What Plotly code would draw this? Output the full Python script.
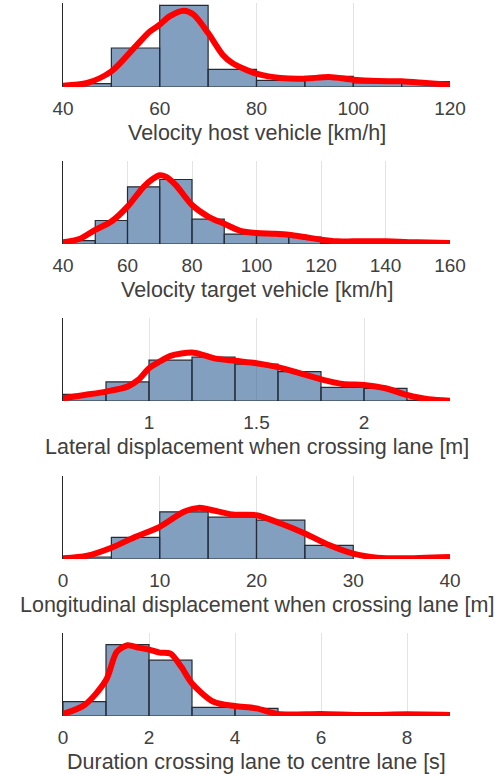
import plotly.graph_objects as go

# ---- histogram bins (left edges, bin width) and bar heights ----
host_edges = [40, 50, 60, 70, 80, 90, 100, 110]
host_counts = [10, 117, 245, 53, 20, 32, 12, 16]
host_kde_x = [40, 45, 50, 55, 58, 60, 62, 65, 67, 70, 73, 75, 80, 85, 90, 95, 100, 105, 110, 115, 120]
host_kde_y = [4, 12, 47, 122, 167, 187, 212, 229, 217, 162, 97, 72, 40, 27, 25, 30, 22, 18, 17, 12, 7]

target_edges = [40, 50, 60, 70, 80, 90, 100, 110, 120, 130, 140, 150]
target_counts = [10, 71, 173, 195, 75, 30, 28, 21, 3, 2, 2, 1]
target_kde_x = [40, 45, 50, 55, 60, 65, 68, 70, 72, 75, 80, 85, 90, 95, 100, 105, 110, 115, 120, 125, 130, 140, 150, 160]
target_kde_y = [5, 15, 43, 68, 113, 173, 198, 208, 203, 178, 118, 83, 61, 40, 33, 31, 28, 21, 13, 8, 8, 8, 5, 3]

lat_edges = [0.6, 0.8, 1.0, 1.2, 1.4, 1.6, 1.8, 2.0, 2.2]
lat_counts = [20, 57, 122, 131, 110, 88, 41, 38, 3]
lat_kde_x = [0.6, 0.7, 0.8, 0.9, 0.95, 1.0, 1.05, 1.1, 1.2, 1.25, 1.3, 1.4, 1.5, 1.6, 1.7, 1.8, 1.9, 2.0, 2.1, 2.2, 2.3, 2.4]
lat_kde_y = [8, 18, 28, 43, 63, 98, 118, 135, 145, 138, 128, 120, 113, 101, 83, 65, 51, 48, 38, 18, 5, 1]

lon_edges = [0, 5, 10, 15, 20, 25]
lon_counts = [6, 65, 142, 126, 117, 41]
lon_kde_x = [0, 2.5, 5, 7.5, 10, 12.5, 14, 15, 17.5, 20, 22.5, 25, 27.5, 30, 32.5, 35, 40]
lon_kde_y = [2, 10, 34, 67, 97, 142, 154, 150, 134, 132, 107, 77, 42, 16, 4, 2, 6]

dur_edges = [0, 1, 2, 3, 4, 5, 6, 7, 8]
dur_counts = [43, 215, 168, 26, 23, 1, 1, 1, 2]
dur_kde_x = [0, 0.5, 1, 1.25, 1.5, 1.75, 2, 2.25, 2.5, 2.75, 3, 3.5, 4, 4.5, 5, 6, 7, 8, 9]
dur_kde_y = [6, 33, 108, 193, 213, 206, 200, 191, 188, 148, 98, 43, 30, 23, 6, 6, 3, 5, 3]

panels = [
    dict(edges=host_edges, width=10, counts=host_counts, kx=host_kde_x, ky=host_kde_y,
         xr=[40, 120], ticks=[40, 60, 80, 100, 120], ymax=252,
         title="Velocity host vehicle [km/h]"),
    dict(edges=target_edges, width=10, counts=target_counts, kx=target_kde_x, ky=target_kde_y,
         xr=[40, 160], ticks=[40, 60, 80, 100, 120, 140, 160], ymax=251,
         title="Velocity target vehicle [km/h]"),
    dict(edges=lat_edges, width=0.2, counts=lat_counts, kx=lat_kde_x, ky=lat_kde_y,
         xr=[0.6, 2.4], ticks=[1, 1.5, 2], ymax=248,
         title="Lateral displacement when crossing lane [m]"),
    dict(edges=lon_edges, width=5, counts=lon_counts, kx=lon_kde_x, ky=lon_kde_y,
         xr=[0, 40], ticks=[0, 10, 20, 30, 40], ymax=250,
         title="Longitudinal displacement when crossing lane [m]"),
    dict(edges=dur_edges, width=1, counts=dur_counts, kx=dur_kde_x, ky=dur_kde_y,
         xr=[0, 9], ticks=[0, 2, 4, 6, 8], ymax=250,
         title="Duration crossing lane to centre lane [s]"),
]

W, H = 495, 774
# pixel extents of each plotting area (top, bottom)
rows_px = [(3, 87), (161, 244), (318, 401), (476, 559), (633, 716)]
x_px = (63, 450)

FONT = "Liberation Sans, Arial, sans-serif"
TEXT_COLOR = "#404040"
BAR_FILL = "rgba(48,95,148,0.6)"
BAR_EDGE = "#262b33"

fig = go.Figure()
layout = dict(
    width=W, height=H,
    margin=dict(l=0, r=0, t=0, b=0, autoexpand=False),
    paper_bgcolor="white", plot_bgcolor="white",
    showlegend=False,
    font=dict(family=FONT, color=TEXT_COLOR),
    annotations=[],
)

for i, p in enumerate(panels):
    n = i + 1
    xa = "x" if n == 1 else f"x{n}"
    ya = "y" if n == 1 else f"y{n}"
    centers = [e + p["width"] / 2 for e in p["edges"]]
    fig.add_trace(go.Bar(
        x=centers, y=p["counts"], width=p["width"],
        marker=dict(color=BAR_FILL, line=dict(color=BAR_EDGE, width=1.2)),
        xaxis=xa, yaxis=ya, hoverinfo="skip",
    ))
    fig.add_trace(go.Scatter(
        x=p["kx"], y=p["ky"], mode="lines",
        line=dict(color="#ff0000", width=6, shape="spline", smoothing=0.8),
        xaxis=xa, yaxis=ya, hoverinfo="skip",
    ))
    top, bot = rows_px[i]
    ydom = [1 - bot / H, 1 - top / H]
    layout[f"xaxis{'' if n == 1 else n}"] = dict(
        domain=[x_px[0] / W, x_px[1] / W], range=p["xr"], anchor=ya,
        tickvals=p["ticks"], showgrid=True, gridcolor="#e3e3e3", gridwidth=1,
        zeroline=False, showline=False, ticks="", automargin=False,
        ticklabelstandoff=8,
        tickfont=dict(size=19, color=TEXT_COLOR, family=FONT),
        fixedrange=True,
    )
    layout[f"yaxis{'' if n == 1 else n}"] = dict(
        domain=ydom, range=[0, p["ymax"]], anchor=xa,
        showticklabels=False, showgrid=False, zeroline=False, automargin=False,
        showline=True, linecolor="#262626", linewidth=1, ticks="",
        fixedrange=True,
    )
    layout["annotations"].append(dict(
        text=p["title"], xref="paper", yref="paper",
        x=(x_px[0] + x_px[1]) / 2 / W, y=1 - (bot + 46) / H,
        xanchor="center", yanchor="middle", showarrow=False,
        font=dict(size=21.5, color=TEXT_COLOR, family=FONT),
    ))

fig.update_layout(**layout)
fig.write_html("out.html")
